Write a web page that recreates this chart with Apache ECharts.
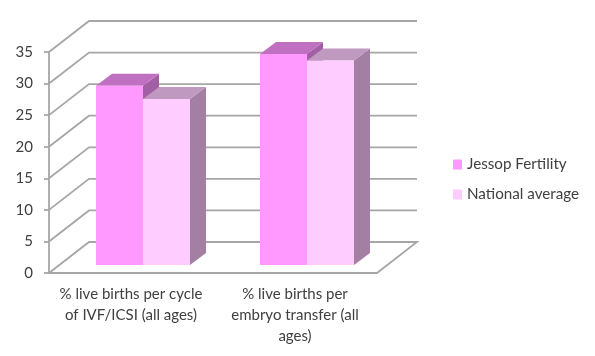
<!DOCTYPE html>
<html>
<head>
<meta charset="utf-8">
<style>
  html, body { margin: 0; padding: 0; background: #fff; }
  #chart { width: 595px; height: 356px; }
</style>
<script src="https://cdn.jsdelivr.net/npm/echarts@6/dist/echarts.min.js"></script>
</head>
<body>
<div id="chart"></div>
<script>
// data
const categories = ['% live births per cycle\nof IVF/ICSI (all ages)', '% live births per\nembryo transfer (all\nages)'];
const jessop = [28.4, 33.4];
const national = [26.3, 32.4];
const yTicks = [0, 5, 10, 15, 20, 25, 30, 35];

// 3d look, in pixels
const WALL_DX = 40, WALL_DY = 31;
const PLANE_DX = 12, PLANE_DY = 8;
const DEPTH_DX = 16, DEPTH_DY = 12;
const BAR_W = 47;
const AXIS = '#a6a6a6';
const FONT = 'Lato, sans-serif';

function poly(points, fill) {
  return { type: 'polygon', shape: { points: points }, style: { fill: fill } };
}

// walls + floor lines
function renderWall(params, api) {
  const cs = params.coordSys;
  const y = api.coord([0, api.value(1)])[1];
  const x0 = cs.x, x1 = cs.x + cs.width;
  const pts = [[x0, y], [x0 + WALL_DX, y - WALL_DY], [x1 + WALL_DX, y - WALL_DY]];
  if (api.value(1) === 0) pts.push([x1, y]);
  return {
    type: 'polyline',
    shape: { points: pts },
    style: { fill: null, stroke: AXIS, lineWidth: 1.8 }
  };
}

function barRenderer(slot, front, top, side) {
  return function (params, api) {
    const c = api.coord([api.value(0), api.value(1)]);
    const base = api.coord([api.value(0), 0]);
    const l = c[0] + PLANE_DX + slot * BAR_W;
    const r = l + BAR_W;
    const t = c[1] - PLANE_DY;
    const b = base[1] - PLANE_DY;
    return {
      type: 'group',
      children: [
        poly([[r, t], [r + DEPTH_DX, t - DEPTH_DY], [r + DEPTH_DX, b - DEPTH_DY], [r, b]], side),
        poly([[l, t], [l + DEPTH_DX, t - DEPTH_DY], [r + DEPTH_DX, t - DEPTH_DY], [r, t]], top),
        poly([[l, t], [r, t], [r, b], [l, b]], front)
      ]
    };
  };
}

const myChart = echarts.init(document.getElementById('chart'), null, { renderer: 'canvas' });
myChart.setOption({
  animation: false,
  backgroundColor: '#fff',
  grid: { left: 49, top: 52, width: 328, height: 221, containLabel: false },
  xAxis: {
    type: 'category',
    data: categories,
    axisLine: { lineStyle: { color: AXIS, width: 1.8 } },
    axisTick: { length: 4, lineStyle: { color: AXIS, width: 1.8 } },
    axisLabel: { color: '#404040', fontFamily: FONT, fontSize: 15, lineHeight: 21, margin: 11, interval: 0 }
  },
  yAxis: {
    type: 'value',
    min: 0,
    max: 35,
    interval: 5,
    splitLine: { show: false },
    axisLine: { show: true, lineStyle: { color: AXIS, width: 1.8 } },
    axisTick: { show: true, length: 5, lineStyle: { color: AXIS, width: 1.8 } },
    axisLabel: { color: '#404040', fontFamily: FONT, fontSize: 15, margin: 16, padding: [5, 0, 0, 0] }
  },
  legend: {
    orient: 'vertical',
    left: 448,
    top: 152,
    itemWidth: 9,
    itemHeight: 10,
    itemGap: 15,
    icon: 'rect',
    data: ['Jessop Fertility', 'National average'],
    textStyle: { color: '#404040', fontFamily: FONT, fontSize: 15.2 }
  },
  series: [
    {
      type: 'custom',
      silent: true,
      data: yTicks.map(v => [0, v]),
      renderItem: renderWall
    },
    {
      type: 'custom',
      name: 'Jessop Fertility',
      itemStyle: { color: '#ff99ff' },
      data: jessop.map((v, i) => [i, v]),
      renderItem: barRenderer(-1, '#ff99ff', '#c070c0', '#a35fa3')
    },
    {
      type: 'custom',
      name: 'National average',
      itemStyle: { color: '#ffccff' },
      data: national.map((v, i) => [i, v]),
      renderItem: barRenderer(0, '#ffccff', '#c099c0', '#a37fa3')
    }
  ]
});
</script>
</body>
</html>
